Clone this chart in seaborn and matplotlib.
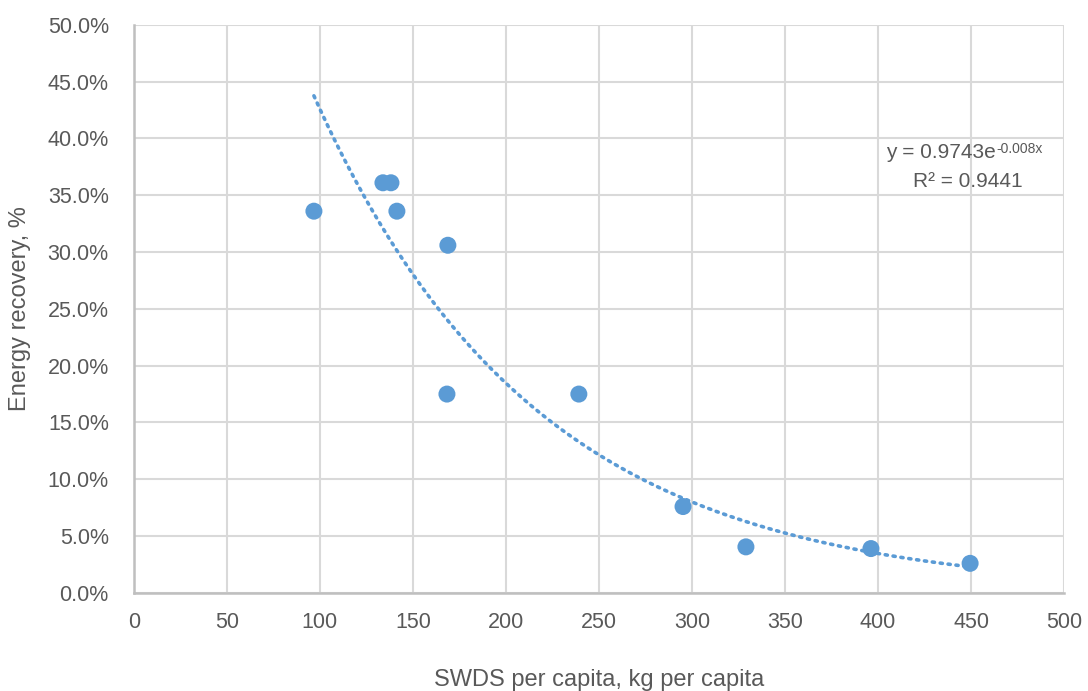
import numpy as np
import pandas as pd
import matplotlib
matplotlib.use("Agg")
import matplotlib.pyplot as plt
import seaborn as sns
from matplotlib.ticker import PercentFormatter, MultipleLocator

# Data
swds_per_capita = [96.8, 133.9, 138.2, 141.4, 168.8, 168.3, 239.2, 295.2, 329.0, 396.2, 449.5]
energy_recovery = [0.336, 0.361, 0.361, 0.336, 0.306, 0.175, 0.175, 0.076, 0.0405, 0.039, 0.026]

trend_label = ["y = 0.9743e", "-0.008x", "R² = 0.9441"]

df = pd.DataFrame({"swds": swds_per_capita, "recovery": energy_recovery})

sns.set_theme(style="whitegrid")
plt.rcParams['font.family'] = ['Liberation Sans', 'DejaVu Sans']

fig = plt.figure(figsize=(10.88, 6.91), dpi=100)
ax = fig.add_axes([0.123, 0.142, 0.855, 0.822])

blue = "#5B9BD5"
text_col = "#595959"

# Exponential trendline fitted on log(y)
b, log_a = np.polyfit(df["swds"], np.log(df["recovery"]), 1)
xs = np.linspace(df["swds"].min(), df["swds"].max(), 200)
ax.plot(xs, np.exp(log_a) * np.exp(b * xs), color=blue, linestyle=(0, (0.6, 1.6)),
        linewidth=2.6, dash_capstyle="round", zorder=2)

sns.scatterplot(data=df, x="swds", y="recovery", ax=ax, color=blue, s=150,
                edgecolor="none", zorder=3)

ax.set_xlim(0, 500)
ax.set_ylim(0, 0.5)
ax.xaxis.set_major_locator(MultipleLocator(50))
ax.yaxis.set_major_locator(MultipleLocator(0.05))
ax.yaxis.set_major_formatter(PercentFormatter(1.0, decimals=1))

ax.grid(True, color="#d9d9d9", linewidth=1.5)
ax.set_facecolor("white")
for side in ["top", "right"]:
    ax.spines[side].set_visible(False)
for side in ["left", "bottom"]:
    ax.spines[side].set_color("#bfbfbf")
    ax.spines[side].set_linewidth(1.8)

ax.tick_params(axis="both", colors=text_col, labelsize=15.5, length=0)
ax.tick_params(axis="x", pad=14)
ax.tick_params(axis="y", pad=18)

ax.set_xlabel("SWDS per capita, kg per capita", fontsize=17, color=text_col, labelpad=26)
ax.set_ylabel("Energy recovery, %", fontsize=17, color=text_col, labelpad=12)

# Trendline equation: base text, then superscript after it
eq = ax.text(0.809, 0.776, trend_label[0], transform=ax.transAxes, fontsize=15,
             color=text_col, ha="left", va="center")
fig.canvas.draw()
bb = eq.get_window_extent()
fig.text(bb.x1 / fig.bbox.width, (bb.y1 - 6) / fig.bbox.height, trend_label[1],
         fontsize=10, color=text_col, ha="left", va="center")
ax.text(0.896, 0.724, trend_label[2], transform=ax.transAxes, fontsize=15,
        color=text_col, ha="center", va="center")

plt.savefig("out.png", dpi=100)
